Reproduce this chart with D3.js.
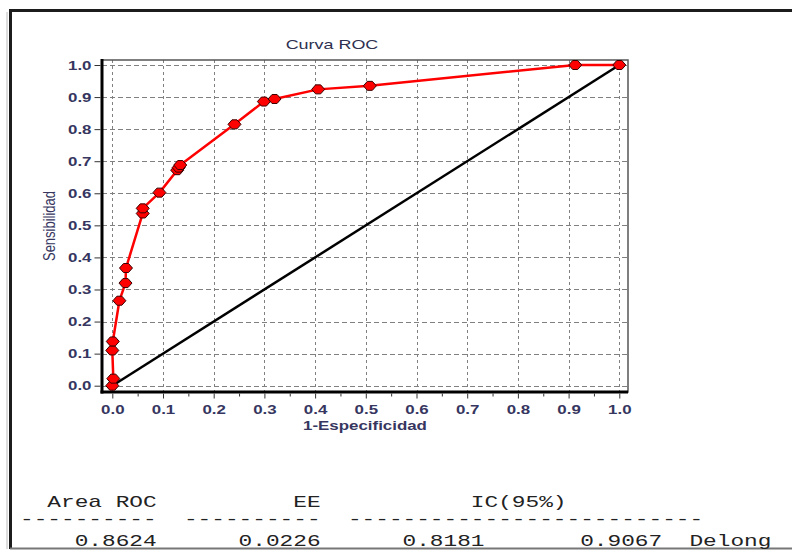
<!DOCTYPE html>
<html>
<meta charset="utf-8">
<title>Curva ROC</title>
<style>
body {
  margin: 0;
  background: #fff;
}

svg {
  display: block;
}

.tick text {
  font-family: "Liberation Sans", Arial, sans-serif;
  font-size: 13px;
  font-weight: bold;
  fill: #363660;
}

.tick line {
  stroke: #333;
}

.table text {
  font-family: "Liberation Mono", "Courier New", monospace;
  font-size: 16px;
  fill: #222;
  white-space: pre;
}
</style>
<body>
<div id="chart"></div>
<script src="https://d3js.org/d3.v7.min.js"></script>
<script>

// ROC points (1-especificidad, sensibilidad)
var fpr = [0, 0.002, 0.0, 0.001, 0.014, 0.026, 0.027, 0.06, 0.06, 0.093, 0.128, 0.131, 0.134, 0.241, 0.299, 0.32, 0.406, 0.508, 0.913, 1.0];
var tpr = [0, 0.022, 0.11, 0.138, 0.265, 0.32, 0.367, 0.537, 0.553, 0.602, 0.672, 0.68, 0.688, 0.815, 0.886, 0.894, 0.924, 0.935, 1.0, 1.0];

var diagonal = [0, 1];
var tickValues = [0, 0.1, 0.2, 0.3, 0.4, 0.5, 0.6, 0.7, 0.8, 0.9, 1.0];
var minorTicks = [0.05, 0.15, 0.25, 0.35, 0.45, 0.55, 0.65, 0.75, 0.85, 0.95];

var title = "Curva ROC",
  xLabel = "1-Especificidad",
  yLabel = "Sensibilidad";

// summary table
var tableHead = ["Area ROC", "EE", "IC(95%)"];
var areaRoc = 0.8624,
  errorEst = 0.0226,
  ciLow = 0.8181,
  ciHigh = 0.9067,
  method = "Delong";

var width = 792,
  height = 550;

// plot frame and scales
var box = {left: 102, top: 60, right: 628, bottom: 392};
var stretch = 1.3; // the picture is widened horizontally

var x = d3.scaleLinear().domain([0, 1]).range([112.3, 619.3]);
var y = d3.scaleLinear().domain([0, 1]).range([385.7, 65]);

var svg = d3.select("#chart").append("svg")
  .attr("width", width)
  .attr("height", height);

// outer window frame
svg.append("line")
  .attr("x1", 9).attr("x2", width).attr("y1", 10.5).attr("y2", 10.5)
  .style("stroke", "#1c1c1c").style("stroke-width", 3);
svg.append("line")
  .attr("x1", 10.5).attr("x2", 10.5).attr("y1", 9).attr("y2", 549)
  .style("stroke", "#1c1c1c").style("stroke-width", 3);
svg.append("line")
  .attr("x1", 7).attr("x2", 7).attr("y1", 12).attr("y2", 549)
  .style("stroke", "#ddd").style("stroke-width", 2);
svg.append("line")
  .attr("x1", 10).attr("x2", width).attr("y1", 548.5).attr("y2", 548.5)
  .style("stroke", "#777").style("stroke-width", 2);

// grid
var grid = svg.append("g");
grid.selectAll(".hgrid")
  .data(tickValues)
  .enter().append("line")
  .attr("class", "hgrid")
  .attr("x1", box.left)
  .attr("x2", box.right)
  .attr("y1", function(d) { return Math.round(y(d)) + 0.5; })
  .attr("y2", function(d) { return Math.round(y(d)) + 0.5; })
  .style("stroke", "#808080")
  .style("stroke-dasharray", "5,3");

grid.selectAll(".vgrid")
  .data(tickValues)
  .enter().append("line")
  .attr("class", "vgrid")
  .attr("x1", function(d) { return Math.round(x(d)) + 0.5; })
  .attr("x2", function(d) { return Math.round(x(d)) + 0.5; })
  .attr("y1", box.top)
  .attr("y2", box.bottom)
  .style("stroke", "#808080")
  .style("stroke-dasharray", "3,3");

// top / right border thin, left / bottom thick
svg.append("rect")
  .attr("x", box.left)
  .attr("y", box.top)
  .attr("width", box.right - box.left)
  .attr("height", box.bottom - box.top)
  .style("fill", "none")
  .style("stroke", "#555")
  .style("stroke-width", 1.5);
svg.append("line")
  .attr("x1", box.left).attr("x2", box.left)
  .attr("y1", box.top - 1).attr("y2", box.bottom + 1.5)
  .style("stroke", "#000").style("stroke-width", 3);
svg.append("line")
  .attr("x1", box.left - 1.5).attr("x2", box.right)
  .attr("y1", box.bottom).attr("y2", box.bottom)
  .style("stroke", "#000").style("stroke-width", 3);

// axes
var xAxis = svg.append("g")
  .attr("transform", "translate(0," + (box.bottom + 1.5) + ")")
  .call(d3.axisBottom(x).tickValues(tickValues).tickSize(5).tickFormat(d3.format(".1f")));
xAxis.select(".domain").remove();
xAxis.selectAll("text")
  .attr("y", 11)
  .attr("transform", "scale(" + stretch + ",1)");

var xMinor = svg.append("g")
  .attr("transform", "translate(0," + (box.bottom + 1.5) + ")")
  .call(d3.axisBottom(x).tickValues(minorTicks).tickSize(3).tickFormat(""));
xMinor.select(".domain").remove();

var yAxis = svg.append("g")
  .attr("transform", "translate(" + (box.left - 1.5) + ",0)")
  .call(d3.axisLeft(y).tickValues(tickValues).tickSize(6).tickFormat(d3.format(".1f")));
yAxis.select(".domain").remove();
yAxis.selectAll("text")
  .attr("x", -9 / stretch)
  .attr("transform", "scale(" + stretch + ",1)");

// chance line
var line = d3.line()
  .x(function(d) { return x(d[0]); })
  .y(function(d) { return y(d[1]); });

svg.append("path")
  .datum(diagonal.map(function(d) { return [d, d]; }))
  .attr("d", line)
  .style("fill", "none")
  .style("stroke", "#000")
  .style("stroke-width", 2.5);

// ROC curve
var points = fpr.map(function(d, i) { return [d, tpr[i]]; });

svg.append("path")
  .datum(points)
  .attr("d", line)
  .style("fill", "none")
  .style("stroke", "#ff0000")
  .style("stroke-width", 2.5)
  .style("stroke-linejoin", "round");

svg.append("g").selectAll(".mark")
  .data(points)
  .enter().append("path")
  .attr("class", "mark")
  .attr("transform", function(d) {
    return "translate(" + x(d[0]) + "," + y(d[1]) + ")";
  })
  .attr("d", "M-6.5,0L-2.5,-4.5L2.5,-4.5L6.5,0L2.5,4.5L-2.5,4.5Z")
  .style("fill", "#ff0000")
  .style("stroke", "#3a0000")
  .style("stroke-width", 1);

// titles
svg.append("text")
  .attr("transform", "translate(332,49) scale(1.38,1)")
  .attr("text-anchor", "middle")
  .style("font-family", "'Liberation Sans', Arial, sans-serif")
  .style("font-size", "13px")
  .style("fill", "#2e3050")
  .text(title);

svg.append("text")
  .attr("transform", "translate(365,430) scale(" + stretch + ",1)")
  .attr("text-anchor", "middle")
  .style("font-family", "'Liberation Sans', Arial, sans-serif")
  .style("font-size", "13px")
  .style("font-weight", "bold")
  .style("fill", "#363660")
  .text(xLabel);

svg.append("text")
  .attr("transform", "translate(54.5,226) scale(" + stretch + ",1) rotate(-90)")
  .attr("text-anchor", "middle")
  .style("font-family", "'Liberation Sans', Arial, sans-serif")
  .style("font-size", "13px")
  .style("fill", "#363660")
  .text(yLabel);

// summary table in monospaced columns
var f4 = d3.format(".4f");
var rows = [
  tableHead[0].padStart(10) + "  " + tableHead[1].padStart(10) + "  " + " ".repeat(9) + tableHead[2],
  "-".repeat(10) + "  " + "-".repeat(10) + "  " + "-".repeat(26),
  f4(areaRoc).padStart(10) + "  " + f4(errorEst).padStart(10) + "  " +
    f4(ciLow).padStart(10) + f4(ciHigh).padStart(13) + "  " + method
];
var rowY = [507, 524, 546];
var charScale = 13.67 / 9.6;

svg.append("g")
  .attr("class", "table")
  .selectAll("text")
  .data(rows)
  .enter().append("text")
  .attr("transform", function(d, i) {
    return "translate(20," + rowY[i] + ") scale(" + charScale + ",1)";
  })
  .text(function(d) { return d; });

</script>
